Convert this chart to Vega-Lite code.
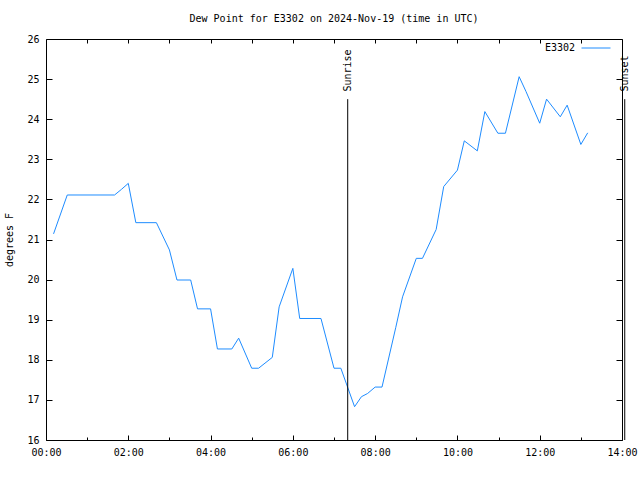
{
  "$schema": "https://vega.github.io/schema/vega-lite/v6.json",
  "width": 576,
  "height": 401,
  "autosize": {"type": "none"},
  "padding": {"left": 46, "top": 39, "right": 18, "bottom": 40},
  "background": "white",
  "title": {
    "text": "Dew Point for E3302 on 2024-Nov-19 (time in UTC)",
    "font": "DejaVu Sans Mono",
    "fontSize": 10,
    "fontWeight": "normal",
    "color": "black",
    "anchor": "middle",
    "offset": 9
  },
  "config": {
    "font": "DejaVu Sans Mono",
    "view": {"stroke": "black", "strokeWidth": 1},
    "axis": {
      "grid": false,
      "domain": false,
      "labelFont": "DejaVu Sans Mono",
      "labelFontSize": 10,
      "labelColor": "black",
      "tickColor": "black",
      "titleFont": "DejaVu Sans Mono",
      "titleFontSize": 10,
      "titleFontWeight": "normal",
      "titleColor": "black"
    }
  },
  "datasets": {
    "dew": [
      {"time": "2024-11-19T00:11:00Z", "station": "E3302", "dewpoint": 21.14},
      {"time": "2024-11-19T00:31:00Z", "station": "E3302", "dewpoint": 22.11},
      {"time": "2024-11-19T01:40:00Z", "station": "E3302", "dewpoint": 22.11},
      {"time": "2024-11-19T01:50:00Z", "station": "E3302", "dewpoint": 22.25},
      {"time": "2024-11-19T02:00:00Z", "station": "E3302", "dewpoint": 22.40},
      {"time": "2024-11-19T02:11:00Z", "station": "E3302", "dewpoint": 21.42},
      {"time": "2024-11-19T02:41:00Z", "station": "E3302", "dewpoint": 21.42},
      {"time": "2024-11-19T03:00:00Z", "station": "E3302", "dewpoint": 20.74},
      {"time": "2024-11-19T03:11:00Z", "station": "E3302", "dewpoint": 19.99},
      {"time": "2024-11-19T03:31:00Z", "station": "E3302", "dewpoint": 19.99},
      {"time": "2024-11-19T03:41:00Z", "station": "E3302", "dewpoint": 19.27},
      {"time": "2024-11-19T04:00:00Z", "station": "E3302", "dewpoint": 19.27},
      {"time": "2024-11-19T04:10:00Z", "station": "E3302", "dewpoint": 18.27},
      {"time": "2024-11-19T04:31:00Z", "station": "E3302", "dewpoint": 18.27},
      {"time": "2024-11-19T04:41:00Z", "station": "E3302", "dewpoint": 18.54},
      {"time": "2024-11-19T05:00:00Z", "station": "E3302", "dewpoint": 17.79},
      {"time": "2024-11-19T05:10:00Z", "station": "E3302", "dewpoint": 17.79},
      {"time": "2024-11-19T05:30:00Z", "station": "E3302", "dewpoint": 18.06},
      {"time": "2024-11-19T05:40:00Z", "station": "E3302", "dewpoint": 19.32},
      {"time": "2024-11-19T06:00:00Z", "station": "E3302", "dewpoint": 20.28},
      {"time": "2024-11-19T06:10:00Z", "station": "E3302", "dewpoint": 19.03},
      {"time": "2024-11-19T06:41:00Z", "station": "E3302", "dewpoint": 19.03},
      {"time": "2024-11-19T07:00:00Z", "station": "E3302", "dewpoint": 17.79},
      {"time": "2024-11-19T07:10:00Z", "station": "E3302", "dewpoint": 17.79},
      {"time": "2024-11-19T07:30:00Z", "station": "E3302", "dewpoint": 16.83},
      {"time": "2024-11-19T07:40:00Z", "station": "E3302", "dewpoint": 17.08},
      {"time": "2024-11-19T07:49:00Z", "station": "E3302", "dewpoint": 17.16},
      {"time": "2024-11-19T08:00:00Z", "station": "E3302", "dewpoint": 17.32},
      {"time": "2024-11-19T08:10:00Z", "station": "E3302", "dewpoint": 17.32},
      {"time": "2024-11-19T08:30:00Z", "station": "E3302", "dewpoint": 18.80},
      {"time": "2024-11-19T08:40:00Z", "station": "E3302", "dewpoint": 19.57},
      {"time": "2024-11-19T09:00:00Z", "station": "E3302", "dewpoint": 20.53},
      {"time": "2024-11-19T09:09:00Z", "station": "E3302", "dewpoint": 20.53},
      {"time": "2024-11-19T09:29:00Z", "station": "E3302", "dewpoint": 21.25},
      {"time": "2024-11-19T09:40:00Z", "station": "E3302", "dewpoint": 22.32},
      {"time": "2024-11-19T10:00:00Z", "station": "E3302", "dewpoint": 22.73},
      {"time": "2024-11-19T10:10:00Z", "station": "E3302", "dewpoint": 23.46},
      {"time": "2024-11-19T10:29:00Z", "station": "E3302", "dewpoint": 23.21},
      {"time": "2024-11-19T10:40:00Z", "station": "E3302", "dewpoint": 24.19},
      {"time": "2024-11-19T10:59:00Z", "station": "E3302", "dewpoint": 23.65},
      {"time": "2024-11-19T11:10:00Z", "station": "E3302", "dewpoint": 23.65},
      {"time": "2024-11-19T11:30:00Z", "station": "E3302", "dewpoint": 25.06},
      {"time": "2024-11-19T11:40:00Z", "station": "E3302", "dewpoint": 24.69},
      {"time": "2024-11-19T12:00:00Z", "station": "E3302", "dewpoint": 23.90},
      {"time": "2024-11-19T12:10:00Z", "station": "E3302", "dewpoint": 24.50},
      {"time": "2024-11-19T12:30:00Z", "station": "E3302", "dewpoint": 24.06},
      {"time": "2024-11-19T12:40:00Z", "station": "E3302", "dewpoint": 24.35},
      {"time": "2024-11-19T13:00:00Z", "station": "E3302", "dewpoint": 23.37},
      {"time": "2024-11-19T13:10:00Z", "station": "E3302", "dewpoint": 23.66}
    ],
    "sun": [
      {"event": "Sunrise", "time": "2024-11-19T07:20:00Z"},
      {"event": "Sunset", "time": "2024-11-19T14:04:00Z"}
    ]
  },
  "layer": [
    {
      "data": {"name": "dew"},
      "mark": {"type": "line", "strokeWidth": 1, "interpolate": "linear"},
      "encoding": {
        "x": {
          "field": "time",
          "type": "temporal",
          "scale": {
            "type": "utc",
            "domain": [
              {"year": 2024, "month": 11, "date": 19, "hours": 0, "utc": true},
              {"year": 2024, "month": 11, "date": 19, "hours": 14, "utc": true}
            ]
          },
          "axis": {
            "orient": "bottom",
            "title": null,
            "format": "%H:%M",
            "values": [
              {"year": 2024, "month": 11, "date": 19, "hours": 0, "utc": true},
              {"year": 2024, "month": 11, "date": 19, "hours": 2, "utc": true},
              {"year": 2024, "month": 11, "date": 19, "hours": 4, "utc": true},
              {"year": 2024, "month": 11, "date": 19, "hours": 6, "utc": true},
              {"year": 2024, "month": 11, "date": 19, "hours": 8, "utc": true},
              {"year": 2024, "month": 11, "date": 19, "hours": 10, "utc": true},
              {"year": 2024, "month": 11, "date": 19, "hours": 12, "utc": true},
              {"year": 2024, "month": 11, "date": 19, "hours": 14, "utc": true}
            ],
            "tickSize": -5,
            "labelPadding": 12,
            "labelOverlap": false,
            "labelFlush": false
          }
        },
        "y": {
          "field": "dewpoint",
          "type": "quantitative",
          "scale": {"domain": [16, 26], "nice": false, "zero": false},
          "axis": {
            "orient": "left",
            "title": "degrees F",
            "values": [16, 17, 18, 19, 20, 21, 22, 23, 24, 25, 26],
            "tickSize": -6,
            "labelPadding": 13,
            "titlePadding": 12
          }
        },
        "color": {
          "field": "station",
          "type": "nominal",
          "scale": {"range": ["#1e8cff"]},
          "legend": {
            "title": null,
            "orient": "none",
            "legendX": 535,
            "legendY": -6,
            "symbolType": "stroke",
            "symbolSize": 841,
            "symbolStrokeWidth": 1,
            "labelAlign": "right",
            "labelOffset": -36,
            "labelFont": "DejaVu Sans Mono",
            "labelFontSize": 10,
            "labelColor": "black"
          }
        }
      }
    },
    {
      "data": {"name": "sun"},
      "mark": {"type": "rule", "color": "black", "strokeWidth": 1},
      "encoding": {
        "x": {
          "field": "time",
          "type": "temporal",
          "axis": {
            "orient": "top",
            "title": null,
            "labels": false,
            "values": [
              {"year": 2024, "month": 11, "date": 19, "hours": 1, "utc": true},
              {"year": 2024, "month": 11, "date": 19, "hours": 2, "utc": true},
              {"year": 2024, "month": 11, "date": 19, "hours": 3, "utc": true},
              {"year": 2024, "month": 11, "date": 19, "hours": 4, "utc": true},
              {"year": 2024, "month": 11, "date": 19, "hours": 5, "utc": true},
              {"year": 2024, "month": 11, "date": 19, "hours": 6, "utc": true},
              {"year": 2024, "month": 11, "date": 19, "hours": 7, "utc": true},
              {"year": 2024, "month": 11, "date": 19, "hours": 8, "utc": true},
              {"year": 2024, "month": 11, "date": 19, "hours": 9, "utc": true},
              {"year": 2024, "month": 11, "date": 19, "hours": 10, "utc": true},
              {"year": 2024, "month": 11, "date": 19, "hours": 11, "utc": true},
              {"year": 2024, "month": 11, "date": 19, "hours": 12, "utc": true},
              {"year": 2024, "month": 11, "date": 19, "hours": 13, "utc": true}
            ],
            "tickSize": -4
          }
        },
        "y": {
          "datum": 24.5,
          "type": "quantitative",
          "axis": {
            "orient": "right",
            "title": null,
            "labels": false,
            "values": [16, 17, 18, 19, 20, 21, 22, 23, 24, 25, 26],
            "tickSize": -6
          }
        },
        "y2": {"datum": 16}
      }
    },
    {
      "data": {"name": "sun"},
      "mark": {
        "type": "text",
        "angle": 270,
        "align": "left",
        "baseline": "middle",
        "font": "DejaVu Sans Mono",
        "fontSize": 10,
        "color": "black"
      },
      "encoding": {
        "x": {
          "field": "time",
          "type": "temporal",
          "axis": {
            "orient": "bottom",
            "title": null,
            "labels": false,
            "values": [
              {"year": 2024, "month": 11, "date": 19, "hours": 1, "utc": true},
              {"year": 2024, "month": 11, "date": 19, "hours": 3, "utc": true},
              {"year": 2024, "month": 11, "date": 19, "hours": 5, "utc": true},
              {"year": 2024, "month": 11, "date": 19, "hours": 7, "utc": true},
              {"year": 2024, "month": 11, "date": 19, "hours": 9, "utc": true},
              {"year": 2024, "month": 11, "date": 19, "hours": 11, "utc": true},
              {"year": 2024, "month": 11, "date": 19, "hours": 13, "utc": true}
            ],
            "tickSize": -3
          }
        },
        "y": {"datum": 24.69, "type": "quantitative", "axis": null},
        "text": {"field": "event"}
      }
    }
  ],
  "resolve": {"axis": {"x": "independent", "y": "independent"}}
}
